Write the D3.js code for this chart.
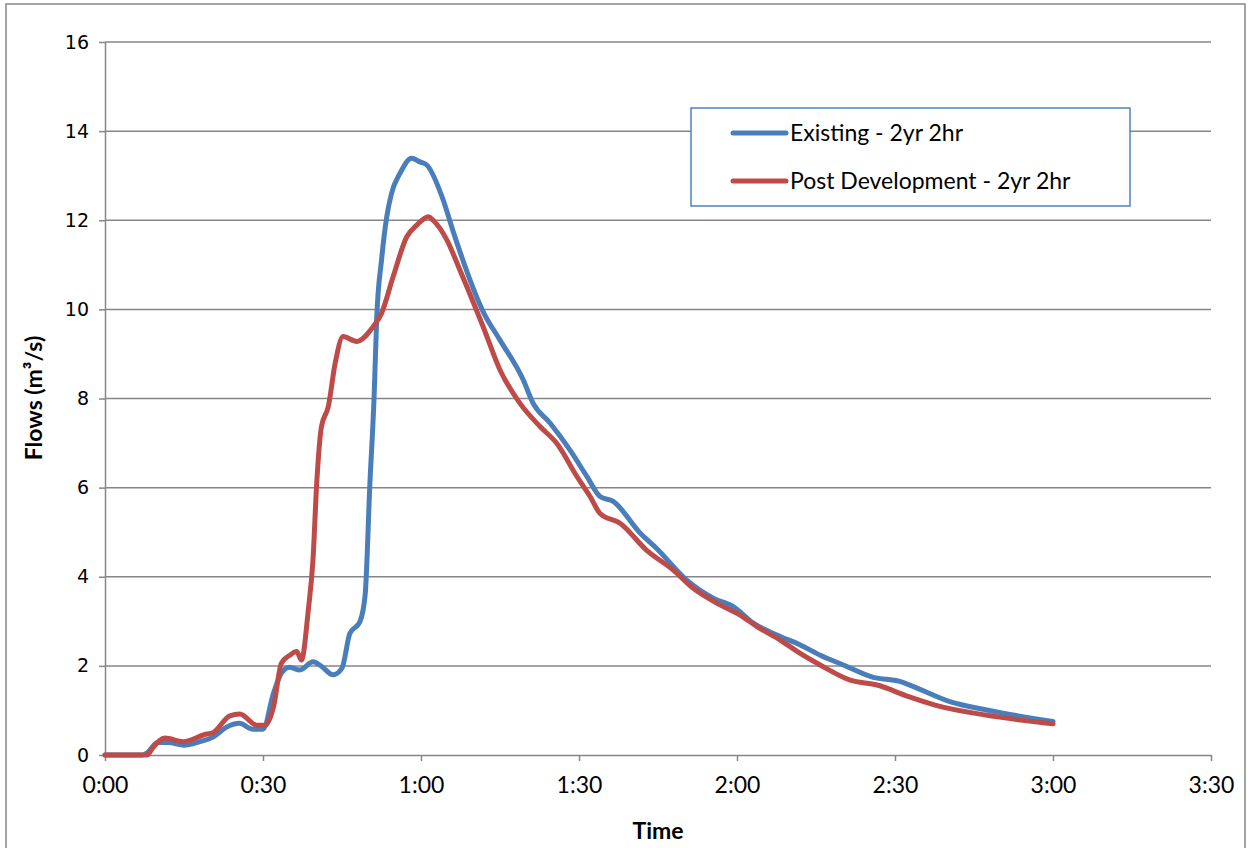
<!DOCTYPE html>
<html>
<head>
<meta charset="utf-8">
<title>Flows</title>
<script src="https://d3js.org/d3.v7.min.js"></script>
<style type="text/css">
	body{ margin:0; background:white; }
	.grid line{ stroke:#868686; stroke-width:1.5; }
	.axis path, .axis line{ stroke:#868686; stroke-width:1.5; }
	.yaxis text{ font-family:"DejaVu Sans", sans-serif; font-size:19px; fill:#000; }
	.xaxis text{ font-family:Lato, "Open Sans", sans-serif; font-size:23px; fill:#000; }
	.title{ font-family:Lato, "Open Sans", sans-serif; font-size:23px; font-weight:bold; }
	.legend text{ font-family:Lato, "Open Sans", sans-serif; font-size:23px; }
</style>
</head>
<body>
<svg id="chart" width="1254" height="848"></svg>
<script>
// time in minutes, flow in m3/s
var existingTime = [0,7,8,10,12,15,18,20.5,23,25.5,28,30,32,33.5,35,37,39.5,41,43.3,45,46.5,48.4,49.4,50.3,51.1,51.6,52.5,53.5,54.4,56,58.2,59.8,61.1,64.2,66.1,72,75,79.4,81.3,84.5,88.3,91.5,94,96.5,101.6,104.7,110.4,115.5,119.3,123.1,128.2,132,135.8,140.2,145.9,150.9,152.8,160.4,167.4,180];
var existingFlow = [0,0,0.05,0.28,0.28,0.22,0.3,0.4,0.62,0.71,0.58,0.58,1.39,1.84,1.97,1.91,2.09,2.0,1.8,1.95,2.73,2.99,3.6,6.1,8.05,9.83,11.1,12.08,12.6,13.05,13.39,13.31,13.24,12.46,11.75,9.9,9.31,8.42,7.89,7.45,6.84,6.25,5.8,5.69,4.98,4.64,3.93,3.52,3.33,2.96,2.66,2.47,2.24,2.02,1.74,1.65,1.57,1.2,1.01,0.75];

var postTime = [0,8,9,11.4,14.8,19.3,20.5,23.7,25.6,28.8,30.4,32,33.5,35.1,36.4,37.3,38.6,39.5,40.2,41.1,42.4,43.7,45.2,47.8,50.9,52.5,54.7,57.3,59.2,61.4,62.3,64.9,67.4,71.8,75,78.8,82.6,85.8,89.6,92.1,94,97.8,102.8,107.9,111.7,116.8,120.6,123.8,128.2,132,135.8,141.5,146.6,152.6,157.6,167,180];
var postFlow = [0,0,0.15,0.38,0.30,0.47,0.5,0.88,0.92,0.67,0.67,1.08,2.06,2.24,2.32,2.13,3.25,4.4,6.1,7.37,7.82,8.79,9.39,9.28,9.61,9.91,10.73,11.63,11.89,12.08,12.0,11.56,10.88,9.61,8.64,7.89,7.37,6.99,6.25,5.8,5.42,5.2,4.6,4.15,3.74,3.37,3.14,2.88,2.58,2.28,2.02,1.68,1.57,1.31,1.12,0.9,0.70];

var seriesNames = ["Existing - 2yr 2hr", "Post Development - 2yr 2hr"];
var seriesColors = ["#4A7EBB", "#BE4B48"];
var xTicks = [0,30,60,90,120,150,180,210];
var xTickLabels = ["0:00","0:30","1:00","1:30","2:00","2:30","3:00","3:30"];
var yTicks = [0,2,4,6,8,10,12,14,16];

var svg = d3.select("#chart");
var margin = {top:42, left:105, right:43, bottom:93};
var w = 1254 - margin.left - margin.right;
var h = 848 - margin.top - margin.bottom;

// outer chart border
svg.append("rect")
	.attr("x",6).attr("y",4).attr("width",1239).attr("height",850)
	.attr("fill","none").attr("stroke","#868686").attr("stroke-width",1.5);

var g = svg.append("g").attr("transform","translate("+margin.left+","+margin.top+")");

var x = d3.scaleLinear().domain([0,210]).range([0,w]);
var y = d3.scaleLinear().domain([0,16]).range([h,0]);

g.append("g").attr("class","grid")
	.selectAll("line").data(yTicks.slice(1)).enter()
	.append("line")
	.attr("x1",0).attr("x2",w)
	.attr("y1",d => y(d)).attr("y2",d => y(d));

var yAxis = g.append("g").attr("class","axis yaxis")
	.call(d3.axisLeft(y).tickValues(yTicks).tickSize(6).tickPadding(10).tickSizeOuter(0));

var xAxis = g.append("g").attr("class","axis xaxis")
	.attr("transform","translate(0,"+h+")")
	.call(d3.axisBottom(x).tickValues(xTicks).tickSize(6).tickPadding(16).tickSizeOuter(0)
		.tickFormat((d,i) => xTickLabels[i]));

var line = d3.line()
	.x(d => x(d[0])).y(d => y(d[1]))
	.curve(d3.curveMonotoneX);

var existing = existingTime.map((t,i) => [t, existingFlow[i]]);
var post = postTime.map((t,i) => [t, postFlow[i]]);

[existing, post].forEach(function(data,i){
	g.append("path")
		.datum(data)
		.attr("fill","none")
		.attr("stroke",seriesColors[i])
		.attr("stroke-width",5)
		.attr("stroke-linejoin","round")
		.attr("stroke-linecap","round")
		.attr("d",line);
});

// axis titles
svg.append("text").attr("class","title")
	.attr("x",658).attr("y",839).attr("text-anchor","middle")
	.text("Time");
svg.append("text").attr("class","title")
	.attr("transform","translate(42,398) rotate(-90)")
	.attr("text-anchor","middle")
	.text("Flows (m³/s)");

// legend
var legend = svg.append("g").attr("class","legend");
legend.append("rect")
	.attr("x",691).attr("y",108).attr("width",439).attr("height",98)
	.attr("fill","white").attr("stroke","#4F81BD").attr("stroke-width",1.5);
seriesNames.forEach(function(name,i){
	var ly = 133 + i*48;
	legend.append("line")
		.attr("x1",733).attr("x2",786).attr("y1",ly).attr("y2",ly)
		.attr("stroke",seriesColors[i]).attr("stroke-width",5)
		.attr("stroke-linecap","round");
	legend.append("text")
		.attr("x",790).attr("y",ly+8)
		.text(name);
});
</script>
</body>
</html>
